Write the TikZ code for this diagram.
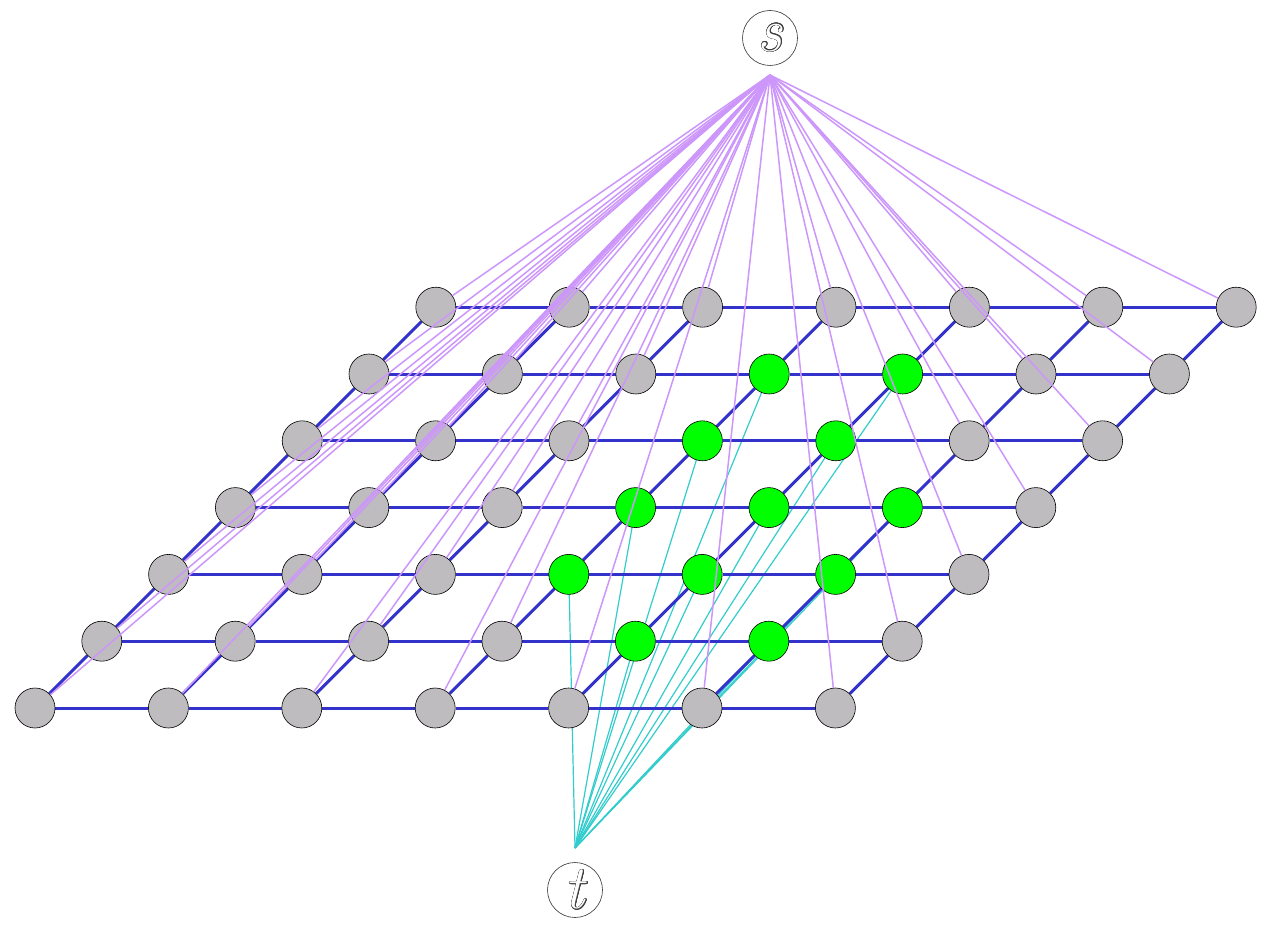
\documentclass[tikz,border=0pt]{standalone}
\usepackage{fontspec}
\usepackage[copies]{contour}
\usetikzlibrary{calc}
\definecolor{gridblue}{RGB}{51,51,204}
\definecolor{srclilac}{RGB}{204,150,250}
\definecolor{sinkcyan}{RGB}{51,204,204}
\definecolor{pixgray}{RGB}{190,188,190}
\definecolor{pixgreen}{RGB}{0,255,0}
\pgfdeclarelayer{bg}
\pgfsetlayers{bg,main}
\contourlength{0.6pt}
\tikzset{
  pixel/.style={circle, draw=black, line width=0.6pt, minimum size=40pt, inner sep=0pt},
  graynode/.style={pixel, fill=pixgray},
  greennode/.style={pixel, fill=pixgreen},
  terminal/.style={circle, draw=black!80, line width=0.6pt, fill=white, minimum size=55pt, inner sep=0pt,
    font=\fontsize{62}{62}\selectfont\itshape},
  gridedge/.style={draw=gridblue, line width=3pt},
  sedge/.style={draw=srclilac, line width=1.5pt},
  tedge/.style={draw=sinkcyan, line width=1.2pt}
}
\newcommand{\hollow}[1]{{\color{white}\contour{black!75}{#1}}}
\begin{document}
\begin{tikzpicture}[x=1pt,y=-1pt]
\useasboundingbox (0,0) rectangle (1270,928);

% terminals
\node[terminal] (s) at (770,38) {\raisebox{-2pt}{\hollow{s}}};
\node[terminal] (t) at (575,890) {\raisebox{-2pt}{\hollow{t}}};
\coordinate (sp) at (770,75);
\coordinate (tp) at (575,848);

% pixel lattice
\foreach \r in {0,...,6} {
  \foreach \c in {0,...,6} {
    \pgfmathtruncatemacro{\isg}{((\r==1)&&(\c>=4)&&(\c<=5)) || ((\r>=2)&&(\r<=3)&&(\c>=3)&&(\c<=5)) || ((\r>=4)&&(\r<=5)&&(\c>=3)&&(\c<=4))}
    \ifnum\isg=1 \def\nsty{greennode}\else\def\nsty{graynode}\fi
    \node[\nsty] (n-\r-\c) at ({35+66.8*\r+133.4*\c},{708-66.8*\r}) {};
  }
}

% sink links behind the pixels
\begin{pgfonlayer}{bg}
\foreach \r in {0,...,6} {
  \foreach \c in {0,...,6} {
    \pgfmathtruncatemacro{\isg}{((\r==1)&&(\c>=4)&&(\c<=5)) || ((\r>=2)&&(\r<=3)&&(\c>=3)&&(\c<=5)) || ((\r>=4)&&(\r<=5)&&(\c>=3)&&(\c<=4))}
    \ifnum\isg=1 \draw[tedge] (tp) -- (n-\r-\c); \fi
  }
}
% neighbour edges
\foreach \r in {0,...,6} {
  \foreach \c in {0,...,5} {
    \pgfmathtruncatemacro{\cn}{\c+1}
    \draw[gridedge] (n-\r-\c) -- (n-\r-\cn);
  }
}
\foreach \r in {0,...,5} {
  \foreach \c in {0,...,6} {
    \pgfmathtruncatemacro{\rn}{\r+1}
    \draw[gridedge] (n-\r-\c) -- (n-\rn-\c);
  }
}
\end{pgfonlayer}

% source links over the pixels
\foreach \r in {0,...,6} {
  \foreach \c in {0,...,6} {
    \pgfmathtruncatemacro{\isg}{((\r==1)&&(\c>=4)&&(\c<=5)) || ((\r>=2)&&(\r<=3)&&(\c>=3)&&(\c<=5)) || ((\r>=4)&&(\r<=5)&&(\c>=3)&&(\c<=4))}
    \ifnum\isg=0 \draw[sedge] (sp) -- (n-\r-\c); \fi
  }
}
\end{tikzpicture}
\end{document}
